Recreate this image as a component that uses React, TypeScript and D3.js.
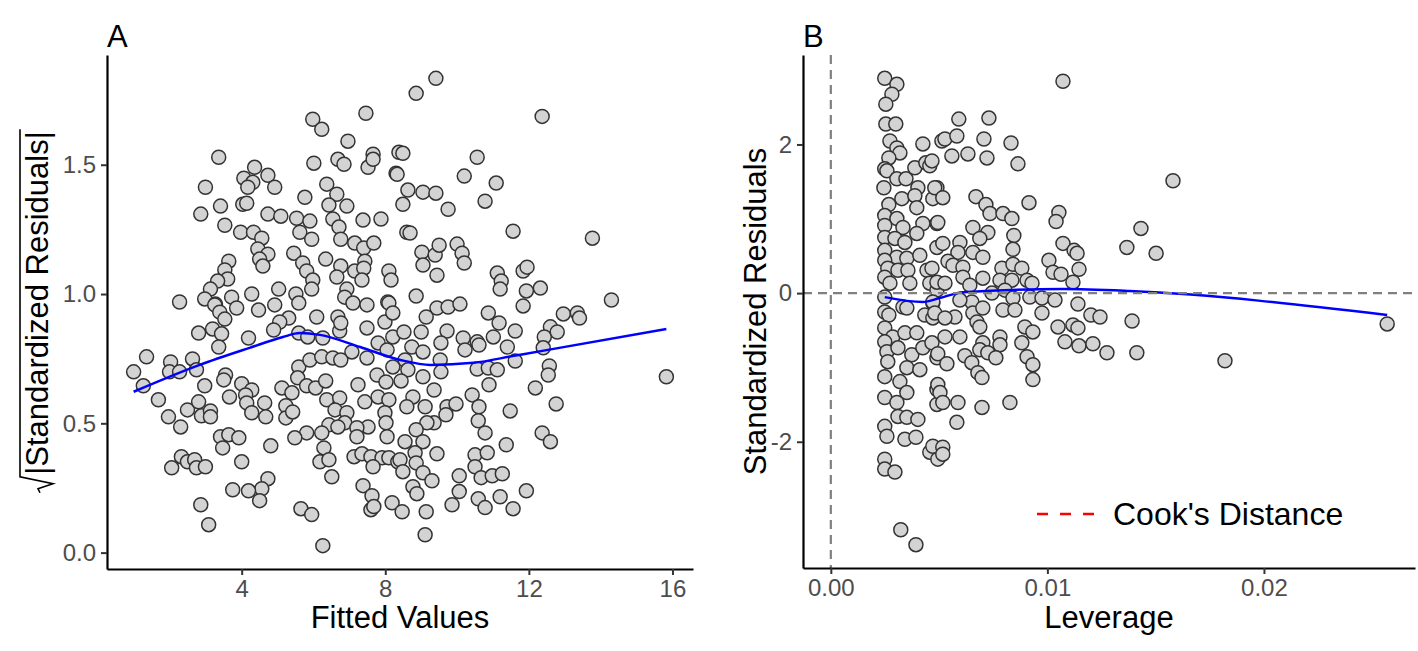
import React, { useEffect, useRef } from "react";
import * as d3 from "d3";

// Panel A: fitted values vs sqrt(|standardized residuals|)
const fittedPoints: [number, number][] = [
  [5.98,1.676],[6.23,1.637],[7.46,1.699],[6.96,1.591],[3.36,1.529],[6.01,1.506],[6.68,1.521],[6.85,1.502],[7.66,1.541],[7.52,1.490],
  [7.66,1.521],[8.38,1.548],[8.30,1.467],[4.36,1.490],[4.06,1.448],[4.31,1.432],[4.73,1.459],[4.17,1.413],[4.92,1.413],[2.99,1.413],
  [5.76,1.374],[6.37,1.425],[6.65,1.386],[6.43,1.344],[6.93,1.340],[4.03,1.347],[4.14,1.351],[3.41,1.340],[2.86,1.309],[3.53,1.266],
  [4.73,1.309],[5.09,1.301],[5.53,1.293],[5.90,1.282],[6.54,1.290],[7.38,1.286],[7.88,1.290],[3.97,1.239],[4.33,1.239],[4.56,1.216],
  [5.62,1.239],[5.95,1.212],[6.71,1.259],[6.76,1.212],[7.15,1.197],[7.40,1.178],[7.68,1.197],[4.45,1.174],[4.73,1.154],[4.50,1.135],
  [4.59,1.108],[5.45,1.158],[5.70,1.120],[5.81,1.089],[5.98,1.054],[5.95,1.019],[6.34,1.135],[6.76,1.108],[6.65,1.066],[6.93,1.019],
  [7.15,1.089],[7.43,1.127],[7.40,1.100],[7.35,1.054],[8.10,1.089],[8.16,1.054],[3.64,1.127],[3.53,1.093],[3.61,1.058],[3.33,1.050],
  [3.13,1.019],[3.72,0.988],[4.28,1.000],[5.03,1.019],[5.51,1.000],[2.27,0.969],[2.97,0.981],[3.27,0.961],
  [9.41,1.834],[8.86,1.776],[12.37,1.687],[8.49,1.544],[10.56,1.529],[8.33,1.463],[10.20,1.456],[11.09,1.429],[8.63,1.402],[9.05,1.394],
  [9.41,1.390],[8.49,1.347],[9.75,1.328],[10.78,1.359],[11.56,1.243],[13.77,1.216],[8.60,1.239],[8.69,1.236],[9.02,1.162],[9.39,1.151],
  [9.50,1.189],[10.00,1.193],[10.14,1.158],[10.20,1.120],[9.05,1.112],[9.44,1.073],[11.12,1.081],[11.23,1.050],[11.20,1.019],[11.84,1.089],
  [11.95,1.104],[11.93,1.012],[12.32,1.023],[14.30,0.977],[8.86,0.992],[8.07,0.969],
  [3.25,0.958],[3.39,0.930],[3.86,0.946],[4.47,0.938],[4.92,0.958],[5.31,0.907],[5.06,0.892],[5.59,0.965],[6.09,0.911],[6.68,0.911],
  [6.87,0.988],[7.10,0.965],[7.49,0.958],[8.10,0.965],[7.99,0.892],[8.21,0.927],[3.53,0.903],[3.19,0.865],[3.44,0.846],[2.80,0.849],
  [3.36,0.795],[4.19,0.830],[4.89,0.861],[5.59,0.849],[5.84,0.834],[6.26,0.830],[6.73,0.857],[6.76,0.888],[7.07,0.776],[7.49,0.869],
  [7.80,0.811],[8.05,0.784],[8.21,0.834],[1.35,0.757],[0.99,0.699],[1.26,0.645],[2.02,0.737],[1.99,0.699],[2.27,0.699],[2.63,0.749],
  [2.74,0.707],[2.97,0.645],[1.68,0.591],[1.96,0.525],[2.30,0.486],[2.49,0.552],[2.80,0.583],[2.88,0.529],[3.13,0.548],[3.13,0.525],
  [3.55,0.687],[3.50,0.668],[3.66,0.602],[4.00,0.653],[4.28,0.629],[4.11,0.610],[4.14,0.579],[4.28,0.541],[4.64,0.579],[4.67,0.525],
  [5.12,0.637],[5.40,0.618],[5.23,0.568],[5.23,0.521],[5.42,0.544],[5.59,0.718],[5.90,0.745],[6.23,0.757],[6.54,0.753],[6.76,0.745],
  [5.56,0.676],[5.81,0.645],[6.06,0.637],[6.34,0.664],[6.37,0.591],[6.73,0.598],[6.60,0.552],[6.93,0.541],[6.87,0.502],[6.43,0.494],
  [6.68,0.486],[6.23,0.463],[5.81,0.463],[5.48,0.444],[7.24,0.649],[7.43,0.583],[7.80,0.602],[8.10,0.591],[7.49,0.753],[7.77,0.687],
  [8.02,0.660],[8.21,0.718],[7.99,0.541],[8.02,0.502],[8.05,0.448],[7.52,0.486],[7.21,0.483],[7.21,0.448],[3.41,0.448],[3.64,0.456],
  [3.92,0.444],[3.47,0.405],[4.81,0.413],[4.00,0.351],[2.32,0.371],[2.05,0.328],[2.49,0.351],[2.69,0.359],[2.74,0.328],[2.99,0.332],
  [6.29,0.405],[6.18,0.351],[6.43,0.359],[6.51,0.293],[7.13,0.371],[7.35,0.382],[7.60,0.371],[7.91,0.367],[7.66,0.332],[8.10,0.367],
  [8.35,0.351],[4.73,0.286],[4.56,0.247],[4.50,0.201],[4.19,0.239],[3.75,0.243],[2.86,0.185],[3.08,0.108],[5.65,0.170],[5.95,0.147],
  [6.26,0.027],[7.38,0.259],[7.63,0.220],[7.60,0.166],[7.68,0.178],[8.19,0.193],
  [11.84,0.954],[9.44,0.946],[9.75,0.950],[10.08,0.961],[9.14,0.911],[10.87,0.927],[11.17,0.888],[11.62,0.857],[12.96,0.923],[13.35,0.927],
  [13.41,0.907],[8.52,0.853],[9.00,0.853],[9.72,0.857],[10.17,0.830],[10.56,0.815],[10.61,0.803],[11.01,0.834],[11.40,0.795],[11.62,0.741],
  [10.22,0.784],[12.60,0.873],[12.43,0.834],[12.79,0.853],[12.40,0.792],[12.57,0.722],[12.54,0.687],[12.18,0.637],[12.76,0.575],[15.83,0.680],
  [8.74,0.795],[9.05,0.776],[9.55,0.811],[9.53,0.745],[9.55,0.699],[9.05,0.680],[9.36,0.629],[8.55,0.745],[8.63,0.707],[8.44,0.664],
  [8.77,0.602],[9.11,0.564],[8.60,0.564],[9.72,0.564],[9.97,0.575],[9.69,0.533],[9.36,0.502],[9.16,0.502],[8.86,0.475],[8.55,0.429],
  [9.05,0.429],[10.42,0.610],[10.61,0.564],[10.59,0.510],[10.78,0.463],[11.48,0.548],[10.56,0.710],[10.87,0.714],[11.12,0.707],[10.89,0.649],
  [11.37,0.417],[12.37,0.463],[12.60,0.429],[8.83,0.386],[9.44,0.382],[8.41,0.359],[8.86,0.347],[8.49,0.313],[9.05,0.309],[9.30,0.278],
  [8.77,0.255],[8.88,0.228],[10.50,0.378],[10.84,0.386],[10.50,0.332],[10.67,0.290],[10.98,0.297],[11.26,0.305],[10.06,0.297],[10.06,0.236],
  [9.86,0.185],[10.59,0.208],[10.78,0.174],[11.20,0.216],[11.56,0.170],[11.93,0.239],[8.47,0.158],[9.14,0.158],[9.11,0.069],
];

const fittedSmooth: [number, number][] = [
  [0.99,0.622],[2.83,0.726],[4.22,0.792],[5.15,0.834],[5.62,0.849],[6.18,0.842],[7.30,0.795],
  [8.42,0.745],[9.26,0.726],[10.46,0.734],[11.58,0.761],[12.53,0.784],[15.83,0.865],
];

// Panel B: leverage vs standardized residuals
const leveragePoints: [number, number][] = [
  [0.00249,2.890],[0.00305,2.809],[0.00282,2.676],[0.00254,2.542],[0.00254,2.274],[0.00300,2.274],[0.00273,2.047],[0.00305,1.953],[0.00319,1.886],[0.00268,1.819],
  [0.00249,1.672],[0.00259,1.645],[0.00305,1.538],[0.00347,1.538],[0.00388,1.686],[0.00425,2.007],[0.00439,1.753],[0.00457,1.712],[0.00513,2.047],[0.00245,1.418],
  [0.00402,1.418],[0.00490,1.418],[0.00328,1.271],[0.00388,1.311],[0.00268,1.191],[0.00249,1.043],[0.00305,1.003],[0.00397,1.150],[0.00471,1.271],[0.00249,0.910],
  [0.00333,0.883],[0.00425,0.936],[0.00490,0.936],[0.00397,0.803],[0.00249,0.749],[0.00296,0.736],[0.00342,0.682],[0.00249,0.575],[0.00305,0.482],[0.00351,0.468],
  [0.00411,0.508],[0.00490,0.615],[0.00249,0.441],[0.00263,0.334],[0.00310,0.308],[0.00356,0.308],[0.00444,0.308],[0.00249,0.214],[0.00273,0.134],[0.00365,0.134],
  [0.00457,0.134],[0.00490,0.040],[0.00249,-0.054],[0.00333,-0.187],[0.00249,-0.254],[0.00434,-0.294],[0.00471,-0.134],
  [0.00268,-0.294],[0.00351,-0.201],[0.00471,-0.334],[0.00249,-0.468],[0.00286,-0.589],[0.00342,-0.535],[0.00397,-0.535],[0.00249,-0.656],[0.00259,-0.789],[0.00310,-0.736],
  [0.00374,-0.829],[0.00425,-0.736],[0.00490,-0.870],[0.00263,-0.923],[0.00351,-1.003],[0.00411,-1.030],[0.00249,-1.124],[0.00319,-1.191],[0.00351,-1.338],[0.00490,-1.298],
  [0.00249,-1.405],[0.00305,-1.472],[0.00490,-1.498],[0.00310,-1.659],[0.00351,-1.672],[0.00402,-1.699],[0.00249,-1.793],[0.00259,-1.926],[0.00342,-1.967],[0.00393,-1.940],
  [0.00457,-2.140],[0.00494,-2.234],[0.00249,-2.234],[0.00249,-2.368],[0.00296,-2.408],[0.00323,-3.184],[0.00393,-3.385],
  [0.01072,2.850],[0.00591,2.341],[0.00730,2.355],[0.00527,2.074],[0.00582,2.114],[0.00707,2.074],[0.00832,2.020],[0.00559,1.846],[0.00633,1.873],[0.00721,1.819],
  [0.00864,1.739],[0.00467,1.779],[0.00480,1.418],[0.00517,1.284],[0.00670,1.298],[0.00716,1.191],[0.00735,1.070],[0.00795,1.070],[0.00836,1.003],[0.00915,1.217],
  [0.00494,0.950],[0.01053,1.084],[0.01040,0.963],[0.00656,0.883],[0.00725,0.816],[0.00688,0.736],[0.00845,0.776],[0.00517,0.669],[0.00596,0.682],[0.00587,0.548],
  [0.00656,0.548],[0.00702,0.482],[0.00841,0.589],[0.01072,0.669],[0.01123,0.575],[0.01137,0.535],[0.00541,0.428],[0.00564,0.375],[0.00610,0.348],[0.00790,0.334],
  [0.00841,0.388],[0.00882,0.334],[0.01007,0.441],[0.01026,0.281],[0.01063,0.254],[0.01146,0.321],[0.00467,0.334],[0.00610,0.214],[0.00702,0.201],[0.00781,0.174],
  [0.00836,0.174],[0.00906,0.174],[0.00929,0.134],[0.01118,0.147],[0.00490,0.147],[0.00527,0.134],[0.00642,0.107],[0.00744,0.000],[0.00804,0.040],[0.00841,-0.067],
  [0.00919,-0.054],[0.00975,-0.067],[0.01035,-0.094],[0.00651,-0.120],[0.00596,-0.094],[0.00471,-0.120],[0.00480,-0.268],[0.00573,-0.321],[0.00527,-0.334],[0.00656,-0.268],
  [0.00702,-0.201],[0.00795,-0.227],[0.00850,-0.227],[0.00975,-0.268],[0.01141,-0.147],[0.01201,-0.294],[0.01243,-0.321],[0.01391,-0.375],[0.00675,-0.388],[0.00688,-0.455],
  [0.00896,-0.455],[0.00933,-0.522],[0.01049,-0.455],[0.01118,-0.428],[0.01141,-0.468],[0.00527,-0.589],[0.00596,-0.589],[0.00467,-0.669],[0.00702,-0.669],[0.00781,-0.589],
  [0.00781,-0.696],[0.00882,-0.669],[0.01081,-0.656],[0.01146,-0.709],[0.01210,-0.682],[0.01275,-0.803],[0.01413,-0.803],[0.00494,-0.816],[0.00619,-0.843],[0.00688,-0.763],
  [0.00725,-0.803],[0.00762,-0.870],[0.00906,-0.856],[0.00536,-0.950],[0.00651,-0.936],[0.00933,-0.963],[0.00933,-1.164],[0.00679,-1.070],[0.00698,-1.137],[0.00494,-1.231],
  [0.00504,-1.338],[0.00517,-1.472],[0.00587,-1.472],[0.00698,-1.538],[0.00827,-1.472],[0.00582,-1.739],[0.00471,-2.060],[0.00517,-2.074],[0.00517,-2.167],
  [0.01580,1.512],[0.01432,0.870],[0.01367,0.615],[0.01502,0.535],[0.01820,-0.910],[0.02569,-0.415],
];

const leverageSmooth: [number, number][] = [
  [0.00249,-0.054],[0.00425,-0.120],[0.00503,-0.067],[0.00610,0.013],[0.01070,0.054],[0.01380,0.027],[0.02569,-0.294],
];

const fittedTicks = [4, 8, 12, 16];
const sqrtResTicks = [0, 0.5, 1, 1.5];
const leverageTicks = [0, 0.01, 0.02];
const stdResTicks = [-2, 0, 2];

const FONT = "'Liberation Sans', Arial, Helvetica, sans-serif";

function expand(ext: [number, number]): [number, number] {
  const pad = (ext[1] - ext[0]) * 0.05;
  return [ext[0] - pad, ext[1] + pad];
}

function drawPanel(svg: any, opts: any) {
  const { box, points, smooth, xTicks, yTicks, xFmt, yFmt, zeroLines } = opts;
  const xExt = d3.extent(points, (d: any) => d[0]) as [number, number];
  const yExt = d3.extent(points, (d: any) => d[1]) as [number, number];
  if (zeroLines) {
    xExt[0] = Math.min(0, xExt[0]);
  }
  const x = d3.scaleLinear().domain(expand(xExt)).range([box.left, box.right]);
  const y = d3.scaleLinear().domain(expand(yExt)).range([box.bottom, box.top]);

  const g = svg.append("g");

  // points
  g.selectAll("circle")
    .data(points)
    .enter()
    .append("circle")
    .attr("cx", (d: any) => x(d[0]))
    .attr("cy", (d: any) => y(d[1]))
    .attr("r", 7)
    .attr("fill", "#D3D3D3")
    .attr("stroke", "#333333")
    .attr("stroke-width", 1.5);

  // smooth line
  const line = d3
    .line<[number, number]>()
    .x((d) => x(d[0]))
    .y((d) => y(d[1]))
    .curve(d3.curveMonotoneX);
  g.append("path")
    .attr("d", line(smooth))
    .attr("fill", "none")
    .attr("stroke", "#0000FF")
    .attr("stroke-width", 2.5);

  if (zeroLines) {
    g.append("line")
      .attr("x1", box.left)
      .attr("x2", box.right)
      .attr("y1", y(0))
      .attr("y2", y(0))
      .attr("stroke", "#808080")
      .attr("stroke-width", 2.2)
      .attr("stroke-dasharray", "9,6");
    g.append("line")
      .attr("x1", x(0))
      .attr("x2", x(0))
      .attr("y1", box.top)
      .attr("y2", box.bottom)
      .attr("stroke", "#808080")
      .attr("stroke-width", 2.2)
      .attr("stroke-dasharray", "9,6");
  }

  // axes
  const xAxis = g
    .append("g")
    .attr("transform", `translate(0, ${box.bottom})`)
    .call(d3.axisBottom(x).tickValues(xTicks).tickFormat(xFmt).tickSize(6).tickSizeOuter(0).tickPadding(5));
  const yAxis = g
    .append("g")
    .attr("transform", `translate(${box.left}, 0)`)
    .call(d3.axisLeft(y).tickValues(yTicks).tickFormat(yFmt).tickSize(6).tickSizeOuter(0).tickPadding(5));

  [xAxis, yAxis].forEach((a: any) => {
    a.select(".domain").attr("stroke", "#000").attr("stroke-width", 2.2);
    a.selectAll(".tick line").attr("stroke", "#333333").attr("stroke-width", 2);
    a.selectAll(".tick text")
      .attr("fill", "#4D4D4D")
      .style("font-size", "24px")
      .style("font-family", FONT);
  });

  return { x, y };
}

export default function App() {
  const svgRef = useRef<SVGSVGElement>(null);

  useEffect(() => {
    const svg = d3.select(svgRef.current);
    svg.selectAll("*").remove();

    const boxA = { left: 107, right: 693, top: 55, bottom: 569 };
    const boxB = { left: 803, right: 1415, top: 55, bottom: 568 };

    drawPanel(svg, {
      box: boxA,
      points: fittedPoints,
      smooth: fittedSmooth,
      xTicks: fittedTicks,
      yTicks: sqrtResTicks,
      xFmt: (d: number) => String(d),
      yFmt: (d: number) => d.toFixed(1),
      zeroLines: false,
    });

    drawPanel(svg, {
      box: boxB,
      points: leveragePoints,
      smooth: leverageSmooth,
      xTicks: leverageTicks,
      yTicks: stdResTicks,
      xFmt: (d: number) => d.toFixed(2),
      yFmt: (d: number) => String(d),
      zeroLines: true,
    });

    // panel tags
    svg.append("text").attr("x", 107).attr("y", 47).text("A")
      .style("font-size", "31px").style("font-family", FONT);
    svg.append("text").attr("x", 803).attr("y", 47).text("B")
      .style("font-size", "31px").style("font-family", FONT);

    // x titles
    svg.append("text")
      .attr("x", (boxA.left + boxA.right) / 2)
      .attr("y", 628)
      .attr("text-anchor", "middle")
      .style("font-size", "31px")
      .style("font-family", FONT)
      .text("Fitted Values");
    svg.append("text")
      .attr("x", (boxB.left + boxB.right) / 2)
      .attr("y", 628)
      .attr("text-anchor", "middle")
      .style("font-size", "31px")
      .style("font-family", FONT)
      .text("Leverage");

    // y title B
    svg.append("text")
      .attr("transform", `translate(766, ${(boxB.top + boxB.bottom) / 2}) rotate(-90)`)
      .attr("text-anchor", "middle")
      .style("font-size", "31px")
      .style("font-family", FONT)
      .text("Standardized Residuals");

    // y title A with a radical sign over |...|
    const gT = svg.append("g")
      .attr("transform", `translate(48, ${(boxA.top + boxA.bottom) / 2}) rotate(-90)`);
    const t = gT.append("text")
      .style("font-size", "31px")
      .style("font-family", FONT)
      .text("|Standardized Residuals|");
    const w = (t.node() as SVGTextElement).getComputedTextLength();
    const rad = 18;
    const x0 = -(w + rad) / 2;
    t.attr("x", x0 + rad);
    gT.append("path")
      .attr("d", `M${x0},-8 L${x0 + 4},-10 L${x0 + 9},5 L${x0 + 16},-28 L${x0 + rad + w + 2},-28`)
      .attr("fill", "none")
      .attr("stroke", "#000")
      .attr("stroke-width", 1.6);

    // legend for Cook's distance
    svg.append("line")
      .attr("x1", 1037)
      .attr("x2", 1095)
      .attr("y1", 514)
      .attr("y2", 514)
      .attr("stroke", "#FF0000")
      .attr("stroke-width", 2.5)
      .attr("stroke-dasharray", "11,12");
    svg.append("text")
      .attr("x", 1113)
      .attr("y", 525)
      .style("font-size", "32px")
      .style("font-family", FONT)
      .text("Cook's Distance");
  }, []);

  return (
    <div style={{ position: "absolute", left: 0, top: 0, width: 1418, height: 651, background: "#fff" }}>
      <svg ref={svgRef} width={1418} height={651} style={{ display: "block" }} />
    </div>
  );
}
